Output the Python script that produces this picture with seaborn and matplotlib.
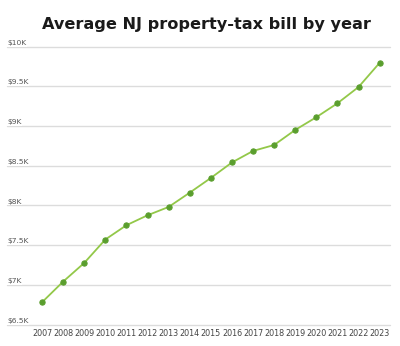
import matplotlib
matplotlib.use("Agg")
import matplotlib.pyplot as plt
import seaborn as sns
import pandas as pd

years = ["2007", "2008", "2009", "2010", "2011", "2012", "2013", "2014", "2015",
         "2016", "2017", "2018", "2019", "2020", "2021", "2022", "2023"]
bills = [6780, 7040, 7275, 7570, 7750, 7875, 7980, 8160, 8345,
         8540, 8685, 8760, 8950, 9110, 9285, 9490, 9795]
ytick_values = [6500, 7000, 7500, 8000, 8500, 9000, 9500, 10000]
ytick_labels = ["$6.5K", "$7K", "$7.5K", "$8K", "$8.5K", "$9K", "$9.5K", "$10K"]

sns.set_theme(style="white")
plt.rcParams['font.family'] = ['DejaVu Sans']

df = pd.DataFrame({"idx": range(len(years)), "bill": bills})

fig = plt.figure(figsize=(4.0, 3.46), dpi=100)
ax = fig.add_axes([7/400, 1 - 324.5/346, 383/400, 278/346])

for v in ytick_values:
    ax.axhline(v, color="#dcdcdc", lw=1.0, zorder=0)

sns.lineplot(data=df, x="idx", y="bill", ax=ax, color="#93c849", lw=1.3,
             marker="o", markersize=3.8, markerfacecolor="#5a9e2e",
             markeredgecolor="#5a9e2e", zorder=3)
for l in ax.lines:
    l.set_clip_on(False)

ax.set_xlim(-1.66, 16.49)
ax.set_ylim(6500, 10000)
for s in ax.spines.values():
    s.set_visible(False)
ax.set_yticks([])
ax.set_xticks(range(len(years)))
ax.set_xticklabels(years, fontsize=5.8, color="#444444")
ax.tick_params(axis="x", length=0, pad=3.5)
ax.set_xlabel("")
ax.set_ylabel("")

for v, lab in zip(ytick_values, ytick_labels):
    ax.text(-1.66, v + 10, lab, fontsize=5.4, color="#555555", ha="left", va="bottom",
            bbox=dict(facecolor="white", edgecolor="none", pad=0.6), zorder=2)

fig.text(206/400, 1 - 24/346, "Average NJ property-tax bill by year", ha="center", va="center",
         fontsize=11.6, fontweight="bold", color="#1a1a1a")

fig.savefig("out.png", dpi=100, facecolor="white")
